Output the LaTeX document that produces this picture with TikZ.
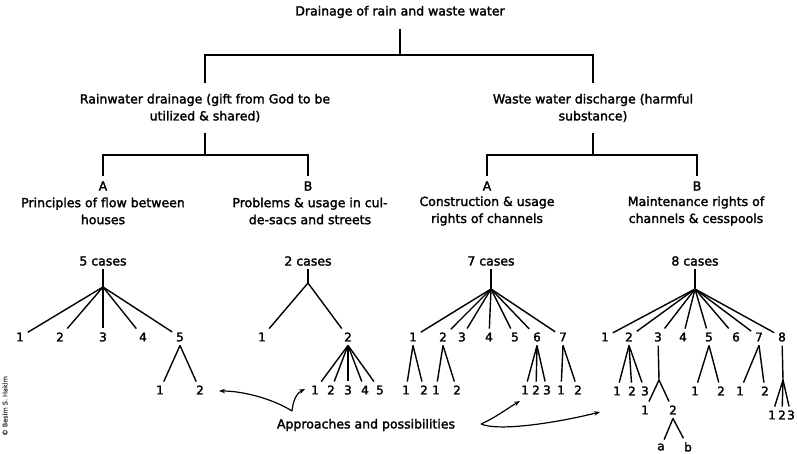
\documentclass[tikz,border=0pt]{standalone}
\usepackage{fontspec}
\setmainfont{DejaVu Sans}[FakeBold=2]
\usetikzlibrary{arrows.meta}
\begin{document}
\begin{tikzpicture}[x=1pt,y=-1pt,
  every node/.style={font=\fontsize{12.5}{17}\selectfont},
  head/.style={align=center,inner sep=2pt,outer sep=9pt},
  letter/.style={inner sep=1pt,outer sep=4pt},
  num/.style={font=\fontsize{12}{14}\selectfont,inner sep=1pt,outer sep=3pt},
  branch/.style={line width=1.4pt},
  hint/.style={line width=1.2pt,-{Stealth[length=6pt,width=4.5pt]}}]
  \useasboundingbox (0,0) rectangle (797,454);
  \node[head] (title) at (400,12) {Drainage of rain and waste water};
  \coordinate (j0) at (400,55);
  \node[head] (rain) at (205,108) {Rainwater drainage (gift from God to be\\utilized \& shared)};
  \node[head] (waste) at (593,108) {Waste water discharge (harmful\\substance)};
  \draw[branch] (title) -- (j0);
  \draw[branch] (rain) |- (j0) -| (waste);
  \coordinate (j1) at (205,155);
  \coordinate (j2) at (593,155);
  \node[letter] (la) at (103,186) {A};
  \node[letter] (lb) at (308,186) {B};
  \node[letter] (wa) at (487,186) {A};
  \node[letter] (wb) at (697,186) {B};
  \node[align=center] (pa) at (103,211) {Principles of flow between\\houses};
  \node[align=center] (pb) at (310,211) {Problems \& usage in cul-\\de-sacs and streets};
  \node[align=center] (ca) at (487,211) {Construction \& usage\\rights of channels};
  \node[align=center] (cb) at (696,211) {Maintenance rights of\\channels \& cesspools};
  \draw[branch] (rain) -- (j1);
  \draw[branch] (la) |- (j1) -| (lb);
  \draw[branch] (waste) -- (j2);
  \draw[branch] (wa) |- (j2) -| (wb);
  \node (c5) at (103,261) {5 cases};
  \node (c2) at (308,261) {2 cases};
  \node (c7) at (491,261) {7 cases};
  \node (c8) at (695,261) {8 cases};
  \coordinate (h5) at (103,287);
  \coordinate (h2) at (308,283);
  \coordinate (h7) at (491,289);
  \coordinate (h8) at (695,289);
  \draw[branch] (c5) -- (h5);
  \draw[branch] (c2) -- (h2);
  \draw[branch] (c7) -- (h7);
  \draw[branch] (c8) -- (h8);
  \foreach \n/\x in {1/20,2/60,3/103,4/143,5/180}
    {\node[num] (a\n) at (\x,337) {\n}; \draw[branch] (h5) -- (a\n);}
  \foreach \n/\x in {1/160,2/200}
    {\node[num] (a5\n) at (\x,390) {\n}; \draw[branch] (a5.south) -- (a5\n);}
  \foreach \n/\x in {1/262,2/348}
    {\node[num] (b\n) at (\x,337) {\n}; \draw[branch] (h2) -- (b\n);}
  \foreach \n/\x in {1/315,2/331,3/348,4/365,5/380}
    {\node[num] (b2\n) at (\x,390) {\n}; \draw[branch] (b2.south) -- (b2\n);}
  \foreach \n/\x in {1/413,2/443,3/462,4/489,5/515,6/537,7/563}
    {\node[num] (d\n) at (\x,337) {\n}; \draw[branch] (h7) -- (d\n);}
  \foreach \n/\x in {1/406,2/424}
    {\node[num] (d1\n) at (\x,390) {\n}; \draw[branch] (d1.south) -- (d1\n);}
  \foreach \n/\x in {1/436,2/457}
    {\node[num] (d2\n) at (\x,390) {\n}; \draw[branch] (d2.south) -- (d2\n);}
  \foreach \n/\x in {1/525,2/536,3/547}
    {\node[num] (d6\n) at (\x,390) {\n}; \draw[branch] (d6.south) -- (d6\n);}
  \foreach \n/\x in {1/561,2/578}
    {\node[num] (d7\n) at (\x,390) {\n}; \draw[branch] (d7.south) -- (d7\n);}
  \foreach \n/\x in {1/605,2/629,3/658,4/683,5/709,6/736,7/759,8/782}
    {\node[num] (e\n) at (\x,337) {\n}; \draw[branch] (h8) -- (e\n);}
  \foreach \n/\x in {1/617,2/632,3/645}
    {\node[num] (e2\n) at (\x,391) {\n}; \draw[branch] (e2.south) -- (e2\n);}
  \coordinate (e3j) at (659,380);
  \draw[branch] (e3) -- (e3j);
  \foreach \n/\x in {1/645,2/673}
    {\node[num] (e3\n) at (\x,410) {\n}; \draw[branch] (e3j) -- (e3\n);}
  \foreach \n/\x in {a/661,b/688}
    {\node[num] (e32\n) at (\x,447) {\n}; \draw[branch] (e32.south) -- (e32\n);}
  \foreach \n/\x in {1/695,2/721}
    {\node[num] (e5\n) at (\x,391) {\n}; \draw[branch] (e5.south) -- (e5\n);}
  \foreach \n/\x in {1/740,2/765}
    {\node[num] (e7\n) at (\x,391) {\n}; \draw[branch] (e7.south) -- (e7\n);}
  \coordinate (e8j) at (783,380);
  \draw[branch] (e8) -- (e8j);
  \foreach \n/\x in {1/772,2/782,3/791}
    {\node[num] (e8\n) at (\x,415) {\n}; \draw[branch] (e8j) -- (e8\n);}
  \node (app) at (366,425) {Approaches and possibilities};
  \coordinate (q1) at (292,411);
  \coordinate (t1) at (219,391);
  \coordinate (t2) at (305,389);
  \coordinate (q2) at (481,424);
  \coordinate (t3) at (520,401);
  \coordinate (t4) at (600,412);
  \draw[hint] (q1) .. controls (275,400) and (245,391) .. (t1);
  \draw[hint] (q1) .. controls (293,400) and (297,393) .. (t2);
  \draw[hint] (q2) .. controls (495,418) and (508,408) .. (t3);
  \draw[hint] (q2) .. controls (500,432) and (560,422) .. (t4);
  \node[rotate=90,font=\fontsize{6.5}{7}\selectfont,text=black!70] (credit) at (5,406) {\copyright\ Besim S. Hakim};
\end{tikzpicture}
\end{document}
